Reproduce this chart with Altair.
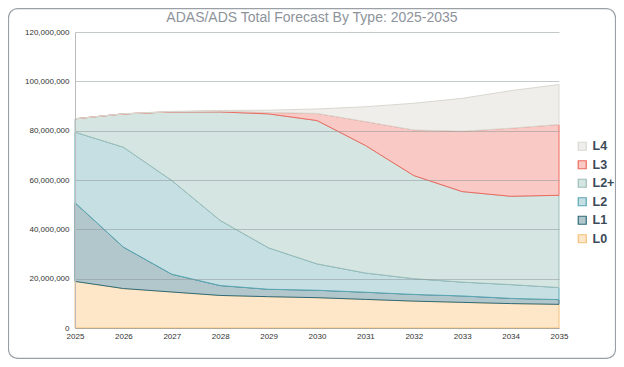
import altair as alt
import pandas as pd

years = list(range(2025, 2036))
types = ["L0", "L1", "L2", "L2+", "L3", "L4"]
# values in millions of units
L0 = [18.9, 16.0, 14.6, 13.2, 12.7, 12.3, 11.6, 10.9, 10.4, 9.9, 9.6]
L1 = [31.9, 16.8, 7.2, 4.0, 3.0, 3.0, 2.9, 2.7, 2.6, 2.1, 1.9]
L2 = [28.6, 40.5, 38.0, 26.4, 16.8, 10.7, 7.8, 6.4, 5.6, 5.6, 4.9]
L2p = [5.4, 13.5, 27.8, 44.0, 54.3, 58.1, 51.7, 41.8, 36.7, 35.8, 37.4]
L3 = [0.0, 0.0, 0.1, 0.3, 0.6, 2.9, 9.7, 18.5, 24.5, 27.6, 28.7]
L4 = [0.0, 0.1, 0.1, 0.3, 0.9, 1.8, 6.0, 10.8, 13.3, 15.2, 16.2]

fills = ["#fde7c8", "#b2c7cc", "#c5dfe2", "#d5e5e1", "#f9c9c5", "#efeeea"]
strokes = ["#f5c07a", "#2f6b78", "#5aa7b5", "#9dbdb8", "#ef6a5f", "#d9d8d0"]

series = [L0, L1, L2, L2p, L3, L4]
rows = []
for i, (t, vals) in enumerate(zip(types, series)):
    for y, v in zip(years, vals):
        rows.append({"Year": y, "Type": t, "ord": i, "value": v * 1e6})
df = pd.DataFrame(rows)

legend_order = types[::-1]
fill_range = fills[::-1]
stroke_range = strokes[::-1]

W, H = 484, 296

leg = dict(title=None, orient="none", legendX=501, legendY=108,
           symbolType="square", symbolSize=64, symbolStrokeWidth=1.2,
           labelFontSize=12.5, labelFontWeight="bold", labelColor="#3b4a58",
           labelFont="Liberation Sans", rowPadding=4.5, labelOffset=4)

areas = alt.Chart(df).mark_area(strokeWidth=1, interpolate="linear", fillOpacity=1).encode(
    x=alt.X("Year:Q", scale=alt.Scale(domain=[2025, 2035], nice=False, zero=False),
            axis=alt.Axis(values=years, format="d", title=None, grid=False, ticks=False,
                          labelFontSize=8, labelColor="#333333", labelPadding=4,
                          labelFlush=False, domainColor="#bbbbbb",
                          labelFont="Liberation Sans")),
    y=alt.Y("value:Q", stack="zero", scale=alt.Scale(domain=[0, 120e6], nice=False),
            axis=alt.Axis(values=[0, 20e6, 40e6, 60e6, 80e6, 100e6, 120e6], format=",.0f",
                          title=None, ticks=False, labelFontSize=8, labelColor="#333333",
                          labelPadding=6, domainColor="#bbbbbb", gridColor="#8a9496",
                          gridOpacity=0.5, zindex=1, labelFont="Liberation Sans")),
    fill=alt.Fill("Type:N", scale=alt.Scale(domain=legend_order, range=fill_range),
                  legend=alt.Legend(**leg)),
    stroke=alt.Stroke("Type:N", scale=alt.Scale(domain=legend_order, range=stroke_range),
                      legend=alt.Legend(**leg)),
    order=alt.Order("ord:Q", sort="ascending"),
)

deco = pd.DataFrame({"t": ["ADAS/ADS Total Forecast By Type: 2025-2035"]})
card = alt.Chart(deco).mark_rect(fill="transparent", stroke="#9aa0a6", strokeWidth=1.2,
                                 cornerRadius=9).encode(
    x=alt.value(-66.5), x2=alt.value(540.5), y=alt.value(-23.4), y2=alt.value(326.4))
title = alt.Chart(deco).mark_text(fontSize=14, color="#8d939b", font="Liberation Sans",
                                  baseline="middle", align="center").encode(
    x=alt.value(237), y=alt.value(-14.5), text="t:N")

chart = alt.layer(card, areas, title).properties(
    width=W, height=H, padding={"left": 67, "top": 24, "right": 57, "bottom": 31},
    autosize=alt.AutoSizeParams(type="none"),
).configure_view(stroke=None)

chart.save("out.html", embed_options={"renderer": "svg", "actions": False})
